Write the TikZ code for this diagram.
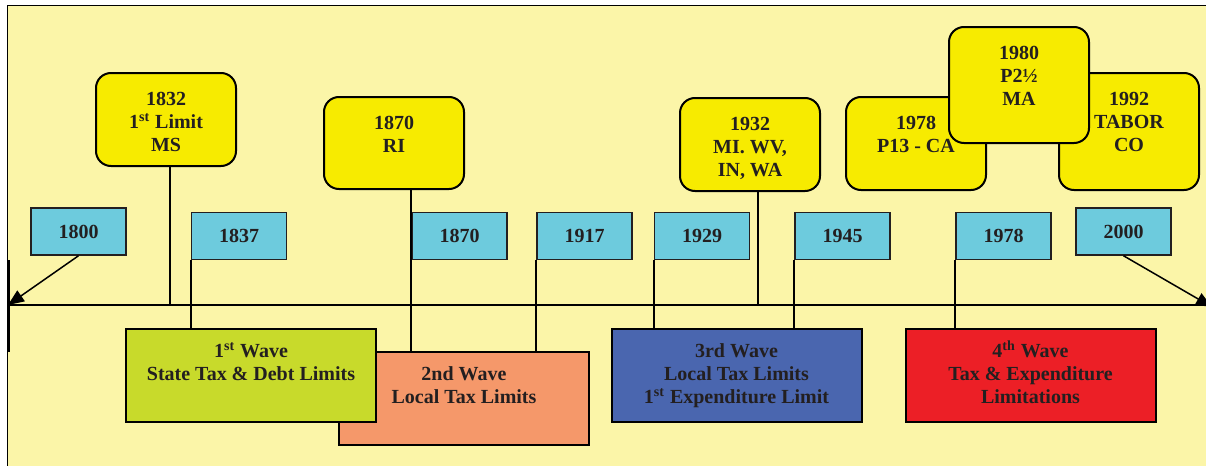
\documentclass[tikz,border=0pt]{standalone}
\usepackage{fontspec}
\setmainfont{Liberation Serif}
\usetikzlibrary{arrows.meta}

\definecolor{bgyellow}{HTML}{FBF5A8}
\definecolor{yearcyan}{HTML}{6DCBDD}
\definecolor{eventyellow}{HTML}{F7EB00}
\definecolor{waveone}{HTML}{C8DA2B}
\definecolor{wavetwo}{HTML}{F5986A}
\definecolor{wavethree}{HTML}{4A66AF}
\definecolor{wavefour}{HTML}{EC1F26}
\definecolor{textgray}{HTML}{231F20}

% same top for every first line
\newcommand{\capht}{\rule{0pt}{8.5pt}}

\begin{document}
\begin{tikzpicture}[x=0.5pt, y=-0.5pt,
    yearbox/.style={draw=textgray, line width=0.75pt, fill=yearcyan, minimum width=47.5pt, minimum height=23.5pt, inner sep=0pt, text=textgray, font=\fontsize{10}{11.5}\selectfont\bfseries},
    eventbox/.style={draw=black, line width=1pt, fill=eventyellow, rounded corners=7.5pt, minimum width=70pt, inner sep=0pt},
    wavebox/.style={draw=black, line width=1pt, minimum width=125pt, minimum height=46.5pt, inner sep=0pt},
    boxtext/.style={align=center, anchor=north, inner sep=0pt, text=textgray, font=\fontsize{10}{11.5}\selectfont\bfseries},
    pole/.style={line width=0.9pt},
    timearrow/.style={line width=0.75pt, -{Triangle[length=8pt, width=6.5pt]}},
  ]
    \useasboundingbox (0,0) rectangle (1206,466);

    % Background
    \fill[bgyellow] (7,5) rectangle (1206,466);
    \draw[line width=0.5pt] (7,466) -- (7,5) -- (1206,5);

    % Timeline
    \coordinate (tl) at (8,305);
    \coordinate (tr) at (1212,307);
    \draw[line width=1pt] (tl) -- (1206,305);
    \draw[line width=1.5pt] (8,260) -- (8,352);

    % Waves
    \node[wavebox, fill=wavetwo] (w2) at (464,398.5) {};
    \node[wavebox, fill=waveone] (w1) at (251,375.5) {};
    \node[wavebox, fill=wavethree] (w3) at (736.5,375.5) {};
    \node[wavebox, fill=wavefour] (w4) at (1030.5,375.5) {};
    \node[boxtext] (t1) at ([yshift=-6.2pt]w1.north) {\capht 1\textsuperscript{st} Wave\\State Tax \& Debt Limits};
    \node[boxtext] (t2) at ([yshift=-6.2pt]w2.north) {\capht 2nd Wave\\Local Tax Limits};
    \node[boxtext] (t3) at ([yshift=-6.2pt]w3.north) {\capht 3rd Wave\\Local Tax Limits\\1\textsuperscript{st} Expenditure Limit};
    \node[boxtext] (t4) at ([yshift=-6.2pt]w4.north) {\capht 4\textsuperscript{th} Wave\\Tax \& Expenditure\\Limitations};

    % Events above the line
    \node[eventbox, minimum height=46.5pt] (l1832) at (166,119.5) {};
    \node[eventbox, minimum height=46pt] (l1870) at (394,143) {};
    \node[eventbox, minimum height=46.5pt] (l1932) at (750,144.5) {};
    \node[eventbox, minimum height=46.5pt] (l1978) at (916,143.5) {};
    \node[eventbox, minimum height=58.5pt] (l1992) at (1129,131.5) {};
    \node[eventbox, minimum height=58pt] (l1980) at (1019,85) {};
    \node[boxtext] (e1832) at ([yshift=-8pt]l1832.north) {\capht 1832\\1\textsuperscript{st} Limit\\MS};
    \node[boxtext] (e1870) at ([yshift=-8pt]l1870.north) {\capht 1870\\RI};
    \node[boxtext] (e1932) at ([yshift=-8pt]l1932.north) {\capht 1932\\MI. WV,\\IN, WA};
    \node[boxtext] (e1978) at ([yshift=-8pt]l1978.north) {\capht 1978\\P13 - CA};
    \node[boxtext] (e1992) at ([yshift=-8pt]l1992.north) {\capht 1992\\TABOR\\CO};
    \node[boxtext] (e1980) at ([yshift=-8pt]l1980.north) {\capht 1980\\P2½\\MA};

    % Years
    \node[yearbox] (y1800) at (78.5,231.5) {1800};
    \node[yearbox] (y1837) at (239,236) {1837};
    \node[yearbox] (y1870) at (459.5,236) {1870};
    \node[yearbox] (y1917) at (584.5,236) {1917};
    \node[yearbox] (y1929) at (702,236) {1929};
    \node[yearbox] (y1945) at (842.5,236) {1945};
    \node[yearbox] (y1978) at (1003.5,236) {1978};
    \node[yearbox] (y2000) at (1123.5,231.5) {2000};

    % Poles
    \draw[pole] ([xshift=2pt]l1832.south) -- ([xshift=2pt]l1832.south |- tl);
    \draw[pole] (l1870.south -| y1870.west) -- (y1870.west |- w2.north);
    \draw[pole] ([xshift=4pt]l1932.south) -- ([xshift=4pt]l1932.south |- tl);
    \foreach \yr/\wv in {1837/w1, 1917/w2, 1929/w3, 1945/w3, 1978/w4}
      \draw[pole] (y\yr.south west) -- (y\yr.south west |- \wv.north);

    % Ends of the timeline
    \draw[timearrow] (y1800.south) -- (tl);
    \draw[timearrow] (y2000.south) -- (tr);
\end{tikzpicture}
\end{document}
